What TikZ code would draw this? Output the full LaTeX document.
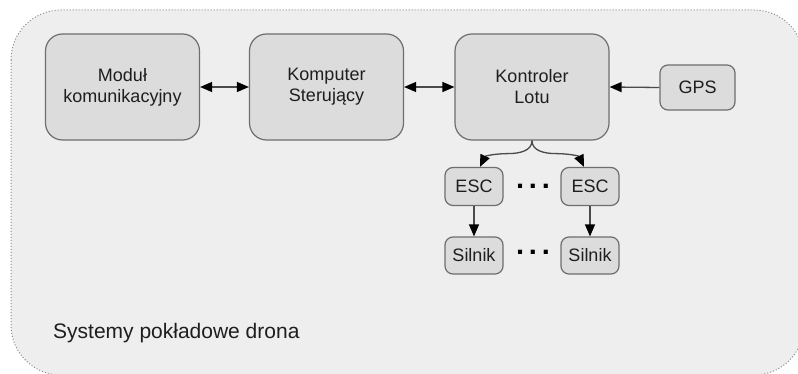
\documentclass[tikz,border=0pt]{standalone}
\usepackage{fontspec}
\setmainfont{Liberation Sans}
\usetikzlibrary{arrows.meta}
\definecolor{bgc}{HTML}{EEEEEE}
\definecolor{boxc}{HTML}{DCDCDC}
\definecolor{edgec}{HTML}{6E6E6E}
\definecolor{framec}{HTML}{8A8A8A}
\definecolor{linec}{HTML}{4A4A4A}
\definecolor{txtc}{HTML}{1E1E1E}
\tikzset{
  bigbox/.style={draw=edgec, fill=boxc, line width=1.2pt, rounded corners=17pt,
    minimum width=154pt, minimum height=106pt, inner sep=0pt, align=center,
    font=\fontsize{18}{21}\selectfont, text=txtc},
  smallbox/.style={draw=edgec, fill=boxc, line width=1.2pt, rounded corners=8pt,
    minimum width=58pt, minimum height=38pt, inner sep=0pt, align=center,
    font=\fontsize{18}{21}\selectfont, text=txtc},
  tip/.style={Triangle[length=12pt,width=10pt,color=black]},
  conn/.style={draw=linec, line width=1.3pt, -{Triangle[length=12pt,width=10pt,color=black]}},
  biconn/.style={draw=linec, line width=1.3pt, {Triangle[length=12pt,width=10pt,color=black]}-{Triangle[length=12pt,width=10pt,color=black]}},
  dots/.style={font=\fontsize{29}{29}\selectfont\bfseries, text=black, inner sep=0pt}
}
\begin{document}
\begin{tikzpicture}[x=1pt, y=-1pt]
\useasboundingbox (0,0) rectangle (798,374);
\clip (0,0) rectangle (798,374);
\fill[white] (0,0) rectangle (798,374);
\draw[framec, fill=bgc, line width=1pt, dotted, rounded corners=50pt] (11,10) rectangle (804,375);

\node[bigbox] (mod) at (122.5,87) {Moduł\\komunikacyjny};
\node[bigbox] (komp) at (326.5,87) {Komputer\\Sterujący};
\node[bigbox] (kont) at (532,87) {Kontroler\\Lotu};
\node[smallbox, minimum width=75pt, minimum height=45pt] (gps) at (697.5,87.5) {GPS};
\node[smallbox] (esc1) at (474,186.5) {ESC};
\node[smallbox] (esc2) at (590,186.5) {ESC};
\node[smallbox, minimum height=37pt] (sil1) at (474,255.5) {Silnik};
\node[smallbox, minimum height=37pt] (sil2) at (590,255.5) {Silnik};

\node[dots] (d1) at (533,186) {.\,.\,.};
\node[dots] (d2) at (533,252) {.\,.\,.};

\draw[biconn] (mod.east) -- (komp.west);
\draw[biconn] (komp.east) -- (kont.west);
\draw[conn] (gps.west) -- (kont.east);
\draw[conn] (kont.south) to[out=-90,in=0] ([xshift=-24pt,yshift=-13pt]kont.south) to[out=180,in=65] ([xshift=6pt]esc1.north);
\draw[conn] (kont.south) to[out=-90,in=180] ([xshift=24pt,yshift=-13pt]kont.south) to[out=0,in=115] ([xshift=-6pt]esc2.north);
\draw[conn] (esc1.south) -- (sil1.north);
\draw[conn] (esc2.south) -- (sil2.north);

\node[anchor=base west, font=\fontsize{21}{24}\selectfont, text=txtc, inner sep=0pt] (lbl) at (53,338) {Systemy pokładowe drona};
\end{tikzpicture}
\end{document}
